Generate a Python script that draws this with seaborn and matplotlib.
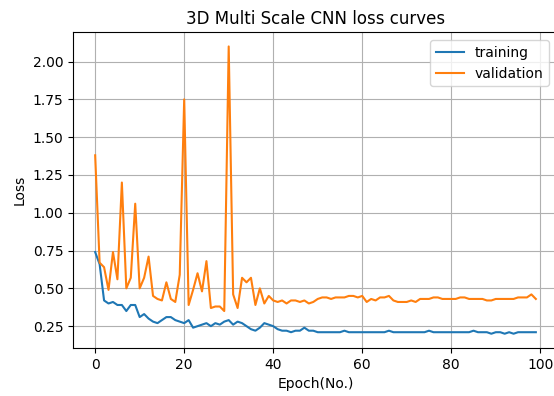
import matplotlib
matplotlib.use("Agg")
import matplotlib.pyplot as plt
import seaborn as sns
import numpy as np
import pandas as pd

epochs = list(range(100))

training = [
    0.74, 0.66, 0.42, 0.40, 0.41, 0.39, 0.39, 0.35, 0.39, 0.39,
    0.31, 0.33, 0.30, 0.28, 0.27, 0.29, 0.31, 0.31, 0.29, 0.28,
    0.27, 0.29, 0.24, 0.25, 0.26, 0.27, 0.25, 0.27, 0.26, 0.28,
    0.29, 0.26, 0.28, 0.27, 0.25, 0.23, 0.22, 0.24, 0.27, 0.26,
    0.25, 0.23, 0.22, 0.22, 0.21, 0.22, 0.22, 0.24, 0.22, 0.22,
    0.21, 0.21, 0.21, 0.21, 0.21, 0.21, 0.22, 0.21, 0.21, 0.21,
    0.21, 0.21, 0.21, 0.21, 0.21, 0.21, 0.22, 0.21, 0.21, 0.21,
    0.21, 0.21, 0.21, 0.21, 0.21, 0.22, 0.21, 0.21, 0.21, 0.21,
    0.21, 0.21, 0.21, 0.21, 0.21, 0.22, 0.21, 0.21, 0.21, 0.20,
    0.21, 0.21, 0.20, 0.21, 0.20, 0.21, 0.21, 0.21, 0.21, 0.21,
]

validation = [
    1.38, 0.67, 0.64, 0.49, 0.74, 0.56, 1.20, 0.50, 0.57, 1.06,
    0.50, 0.57, 0.71, 0.45, 0.43, 0.42, 0.54, 0.43, 0.41, 0.59,
    1.75, 0.39, 0.49, 0.60, 0.48, 0.68, 0.37, 0.38, 0.38, 0.35,
    2.10, 0.46, 0.37, 0.57, 0.54, 0.57, 0.39, 0.50, 0.40, 0.45,
    0.42, 0.41, 0.42, 0.40, 0.42, 0.42, 0.41, 0.42, 0.40, 0.41,
    0.43, 0.44, 0.44, 0.43, 0.44, 0.44, 0.44, 0.45, 0.45, 0.44,
    0.45, 0.41, 0.43, 0.42, 0.44, 0.44, 0.45, 0.42, 0.41, 0.41,
    0.41, 0.42, 0.41, 0.43, 0.43, 0.43, 0.44, 0.44, 0.43, 0.43,
    0.43, 0.43, 0.44, 0.44, 0.43, 0.43, 0.43, 0.43, 0.42, 0.42,
    0.43, 0.43, 0.43, 0.43, 0.43, 0.44, 0.44, 0.44, 0.46, 0.43,
]

fig = plt.figure(figsize=(5.54, 3.96), dpi=100)
ax = fig.add_axes([0.132, 0.121, 0.875, 0.798])

sns.lineplot(x=epochs, y=training, ax=ax, color="#1f77b4", label="training", linewidth=1.5)
sns.lineplot(x=epochs, y=validation, ax=ax, color="#ff7f0e", label="validation", linewidth=1.5)

ax.set_title("3D Multi Scale CNN loss curves", fontsize=12)
ax.set_xlabel("Epoch(No.)", fontsize=10)
ax.set_ylabel("Loss", fontsize=10)
ax.set_xticks([0, 20, 40, 60, 80, 100])
ax.set_yticks([0.25, 0.50, 0.75, 1.00, 1.25, 1.50, 1.75, 2.00])
ax.grid(True, color="#b0b0b0", linewidth=0.8)
ax.legend(loc="upper right", fontsize=10, bbox_to_anchor=(549 / 554, 1 - 40 / 396),
          bbox_transform=fig.transFigure, borderaxespad=0)

fig.savefig("out.png", dpi=100)
